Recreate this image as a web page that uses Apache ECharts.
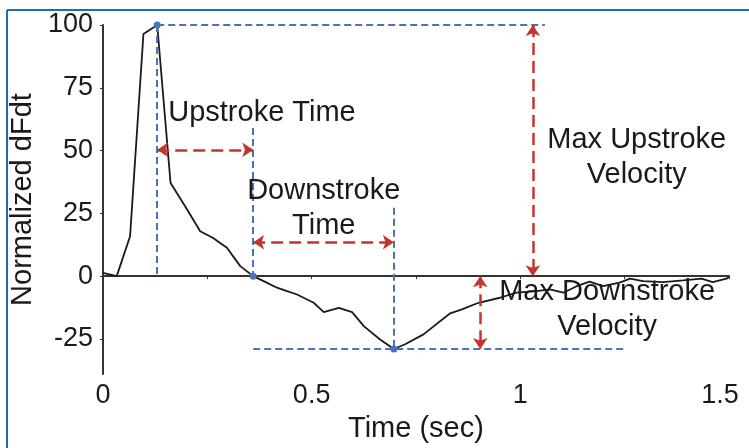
<!DOCTYPE html>
<html>
<head>
<meta charset="utf-8">
<script src="https://cdn.jsdelivr.net/npm/echarts@6/dist/echarts.min.js"></script>
<style>
    html, body { margin: 0; padding: 0; background: #fff; }
    #chart { width: 749px; height: 448px; }
</style>
</head>
<body>
<div id="chart"></div>
<script>
    // trace: time (s) and normalized dF/dt
    const timeSec = [0, 0.033, 0.065, 0.097, 0.130, 0.162, 0.198, 0.233, 0.263, 0.297,
        0.329, 0.360, 0.385, 0.417, 0.441, 0.465, 0.505, 0.529, 0.565, 0.597,
        0.625, 0.664, 0.697, 0.724, 0.768, 0.832, 0.860, 0.900, 0.951, 0.991,
        1.039, 1.071, 1.103, 1.135, 1.166, 1.198, 1.238, 1.263, 1.294, 1.342,
        1.390, 1.434, 1.461, 1.494, 1.500];
    const dFdt = [1.3, 0, 15.9, 96.4, 100, 37.1, 27.5, 17.9, 15.3, 11.3,
        4.0, 0, -2.0, -4.6, -6.0, -7.3, -10.6, -14.3, -12.6, -14.3,
        -19.9, -25.2, -29.0, -27.1, -23.2, -14.8, -13.2, -10.6, -8.6, -6.6,
        -6.0, -5.3, -6.6, -4.0, -2.2, -4.0, -2.6, -1.0, -2.0, -2.4,
        -1.7, -1.0, -2.4, -1.0, -0.3];

    const xTicks = [0, 0.5, 1, 1.5];
    const xMinorTicks = [0, 0.25, 0.5, 0.75, 1, 1.25, 1.5];
    const yTicks = [-25, 0, 25, 50, 75, 100];

    // peak, zero crossing, minimum
    const keyPoints = [[0.130, 100], [0.360, 0], [0.697, -29]];

    // blue dashed guides and red measuring arrows, [from, to] in data units
    const guideLines = [
        [[0.130, 100], [1.059, 100]],
        [[0.130, 100], [0.130, 0]],
        [[0.360, 59], [0.360, 0]],
        [[0.697, 27.2], [0.697, -29]],
        [[0.360, -29], [1.254, -29]]
    ];
    const arrowLines = [
        [[0.130, 50.3], [0.360, 50.3]],
        [[0.360, 13.5], [0.697, 13.5]],
        [[1.030, 100], [1.030, 0]],
        [[0.904, 0], [0.904, -29]]
    ];
    const notes = [
        { text: 'Upstroke Time', at: [0.381, 64.8] },
        { text: 'Downstroke\nTime', at: [0.529, 26.9] },
        { text: 'Max Upstroke\nVelocity', at: [1.279, 47.2] },
        { text: 'Max Downstroke\nVelocity', at: [1.208, -13.2] }
    ];

    const font = 'Liberation Sans, Arial, sans-serif';
    const ink = '#1a1a1a';
    const blue = '#4a72bf';
    const red = '#c5342c';

    const chart = echarts.init(document.getElementById('chart'), null, { renderer: 'canvas' });

    const toMark = function (pair) {
        return [{ coord: pair[0] }, { coord: pair[1] }];
    };

    chart.setOption({
        animation: false,
        backgroundColor: '#fff',
        textStyle: { fontFamily: font },
        graphic: [
            { type: 'line', shape: { x1: 7, y1: 10, x2: 749, y2: 10 }, style: { stroke: '#1f6fae', lineWidth: 2 } },
            { type: 'line', shape: { x1: 7, y1: 10, x2: 7, y2: 448 }, style: { stroke: '#1f6fae', lineWidth: 2 } }
        ],
        grid: { left: 102, right: 20, top: 25, bottom: 73 },
        xAxis: [
            {
                type: 'value',
                min: 0,
                max: 1.5,
                interval: 0.5,
                position: 'bottom',
                axisLine: { show: false, onZero: false },
                axisTick: { show: false },
                splitLine: { show: false },
                axisLabel: {
                    margin: 8,
                    fontSize: 27,
                    color: ink,
                    formatter: function (v) {
                        return v === 1.5 ? '{r|1.5}' : String(v);
                    },
                    rich: { r: { fontSize: 27, color: ink, padding: [0, 18, 0, 0] } }
                },
                name: 'Time (sec)',
                nameLocation: 'middle',
                nameGap: 34,
                nameTextStyle: { fontSize: 29, color: ink }
            },
            {
                type: 'value',
                min: 0,
                max: 1.5,
                position: 'top',
                axisLine: { show: true, onZero: true, lineStyle: { color: '#333', width: 2 } },
                axisTick: { show: true, inside: true, length: 3, customValues: xMinorTicks, lineStyle: { color: '#333' } },
                axisLabel: { show: false },
                splitLine: { show: false }
            }
        ],
        yAxis: {
            type: 'value',
            min: -39,
            max: 100,
            axisLine: { show: true, onZero: false, lineStyle: { color: '#333', width: 2 } },
            axisTick: { show: true, length: 3, customValues: yTicks, lineStyle: { color: '#333' } },
            splitLine: { show: false },
            axisLabel: { customValues: yTicks, margin: 10, fontSize: 27, color: ink },
            name: 'Normalized dFdt',
            nameLocation: 'middle',
            nameGap: 63,
            nameTextStyle: { fontSize: 29, color: ink }
        },
        series: [
            {
                type: 'line',
                name: 'guides',
                data: [],
                silent: true,
                markLine: {
                    silent: true,
                    symbol: 'none',
                    label: { show: false },
                    lineStyle: { color: blue, width: 2, type: [7, 4] },
                    data: guideLines.map(toMark)
                }
            },
            {
                type: 'line',
                name: 'arrows',
                data: [],
                silent: true,
                markLine: {
                    silent: true,
                    symbol: ['arrow', 'arrow'],
                    symbolSize: 11,
                    label: { show: false },
                    lineStyle: { color: red, width: 2.5, type: [12, 6], opacity: 1 },
                    itemStyle: { color: red },
                    data: arrowLines.map(toMark)
                }
            },
            {
                type: 'line',
                name: 'dFdt',
                data: timeSec.map(function (t, i) { return [t, dFdt[i]]; }),
                showSymbol: false,
                lineStyle: { color: ink, width: 1.8 },
                z: 3
            },
            {
                type: 'scatter',
                name: 'key points',
                data: keyPoints,
                symbolSize: 7,
                itemStyle: { color: blue, opacity: 1 },
                z: 4
            },
            {
                type: 'scatter',
                name: 'notes',
                data: notes.map(function (n) { return { value: n.at, name: n.text }; }),
                symbolSize: 1,
                itemStyle: { color: 'rgba(0,0,0,0)', opacity: 1 },
                label: {
                    show: true,
                    position: 'inside',
                    formatter: '{b}',
                    fontSize: 29,
                    lineHeight: 35,
                    align: 'center',
                    verticalAlign: 'middle',
                    color: ink,
                    opacity: 1
                },
                z: 5
            }
        ]
    });
</script>
</body>
</html>
